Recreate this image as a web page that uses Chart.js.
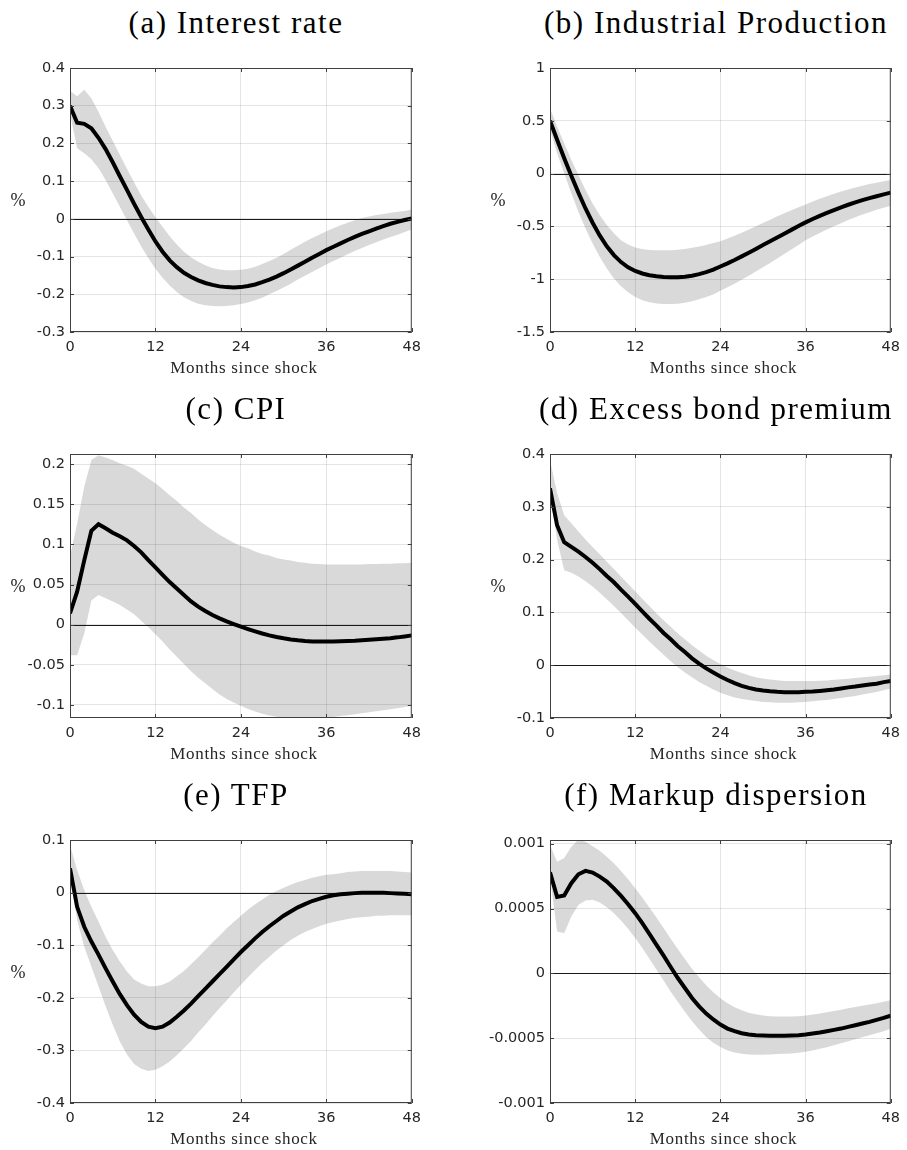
<!DOCTYPE html>
<html lang="en">
<head>
<meta charset="UTF-8">
<title>Impulse responses</title>
<script src="https://cdn.jsdelivr.net/npm/chart.js"></script>
<style>
    body { margin: 0; background: #fff; }
    #page { position: relative; width: 907px; height: 1150px; overflow: hidden; }
    #page canvas { position: absolute; }
    .ttl, .xl, .yl { position: absolute; font-family: "Liberation Serif", "DejaVu Serif", serif; color: #000; white-space: nowrap; }
    .ttl { font-size: 31px; line-height: 31px; letter-spacing: 1.5px; transform: translateX(-50%); }
    .xl { font-size: 17px; line-height: 17px; letter-spacing: 0.7px; color: #262626; transform: translateX(-50%); }
    .yl { font-size: 18px; line-height: 18px; color: #262626; transform: translate(-50%, -50%); }
</style>
</head>
<body>
<div id="page"></div>

<script>
    // months since shock
    const months = [0,1,2,3,4,5,6,7,8,9,10,11,12,13,14,15,16,17,18,19,20,21,22,23,24,
                    25,26,27,28,29,30,31,32,33,34,35,36,37,38,39,40,41,42,43,44,45,46,47,48];
    const xTicks = [0, 12, 24, 36, 48];

    // (a) Interest rate
    const aMid = [0.300,0.255,0.252,0.240,0.215,0.185,0.150,0.113,0.077,0.040,
                  0.005,-0.028,-0.060,-0.087,-0.110,-0.128,-0.143,-0.154,-0.163,-0.170,
                  -0.175,-0.179,-0.181,-0.182,-0.181,-0.178,-0.174,-0.168,-0.161,-0.153,
                  -0.144,-0.134,-0.124,-0.114,-0.103,-0.093,-0.083,-0.074,-0.065,-0.056,
                  -0.048,-0.040,-0.033,-0.026,-0.019,-0.013,-0.008,-0.003,0.001];
    const aHi  = [0.340,0.325,0.342,0.320,0.284,0.244,0.207,0.170,0.133,0.097,
                  0.062,0.032,0.004,-0.021,-0.046,-0.068,-0.087,-0.102,-0.114,-0.123,
                  -0.130,-0.134,-0.136,-0.136,-0.135,-0.132,-0.127,-0.120,-0.112,-0.103,
                  -0.093,-0.082,-0.071,-0.061,-0.051,-0.042,-0.033,-0.025,-0.017,-0.010,
                  -0.004,0.002,0.006,0.010,0.013,0.016,0.019,0.021,0.025];
    const aLo  = [0.280,0.187,0.174,0.158,0.135,0.103,0.068,0.032,-0.004,-0.039,
                  -0.073,-0.104,-0.132,-0.156,-0.177,-0.194,-0.208,-0.218,-0.225,-0.229,
                  -0.231,-0.232,-0.231,-0.229,-0.226,-0.222,-0.216,-0.209,-0.200,-0.191,
                  -0.182,-0.172,-0.161,-0.151,-0.141,-0.131,-0.121,-0.112,-0.103,-0.094,
                  -0.085,-0.077,-0.069,-0.062,-0.055,-0.048,-0.042,-0.035,-0.028];
    const aTicks = [-0.3,-0.2,-0.1,0,0.1,0.2,0.3,0.4];

    // (b) Industrial Production
    const bMid = [0.500,0.320,0.146,-0.020,-0.180,-0.330,-0.465,-0.585,-0.688,-0.772,
                  -0.838,-0.888,-0.922,-0.946,-0.962,-0.972,-0.979,-0.982,-0.982,-0.977,
                  -0.967,-0.952,-0.933,-0.910,-0.880,-0.850,-0.818,-0.784,-0.749,-0.713,
                  -0.677,-0.641,-0.605,-0.569,-0.533,-0.497,-0.462,-0.430,-0.400,-0.372,
                  -0.345,-0.319,-0.295,-0.272,-0.251,-0.232,-0.214,-0.197,-0.180];
    const bHi  = [0.620,0.446,0.288,0.130,-0.013,-0.155,-0.282,-0.392,-0.487,-0.566,
                  -0.630,-0.671,-0.699,-0.715,-0.724,-0.727,-0.727,-0.725,-0.721,-0.714,
                  -0.703,-0.690,-0.675,-0.658,-0.640,-0.615,-0.588,-0.559,-0.529,-0.498,
                  -0.467,-0.436,-0.405,-0.376,-0.347,-0.319,-0.292,-0.264,-0.238,-0.214,
                  -0.191,-0.169,-0.150,-0.131,-0.114,-0.099,-0.086,-0.073,-0.060];
    const bLo  = [0.415,0.193,0.003,-0.187,-0.361,-0.519,-0.661,-0.788,-0.899,-0.994,
                  -1.066,-1.123,-1.168,-1.199,-1.218,-1.231,-1.235,-1.236,-1.232,-1.222,
                  -1.208,-1.190,-1.168,-1.144,-1.110,-1.077,-1.042,-1.005,-0.967,-0.928,
                  -0.887,-0.846,-0.805,-0.762,-0.719,-0.675,-0.632,-0.596,-0.562,-0.530,
                  -0.499,-0.469,-0.440,-0.413,-0.388,-0.365,-0.342,-0.324,-0.305];
    const bTicks = [-1.5,-1,-0.5,0,0.5,1];

    // (c) CPI
    const cMid = [0.014,0.041,0.080,0.117,0.125,0.120,0.1145,0.110,0.105,0.098,
                  0.090,0.0805,0.0714,0.062,0.053,0.045,0.037,0.029,0.0224,0.017,
                  0.012,0.0078,0.004,0.0007,-0.0025,-0.0055,-0.0083,-0.011,-0.0133,-0.0153,
                  -0.017,-0.0184,-0.0195,-0.0203,-0.0208,-0.021,-0.021,-0.021,-0.0207,-0.0203,
                  -0.020,-0.0195,-0.0189,-0.0183,-0.0176,-0.0168,-0.0158,-0.0146,-0.0133];
    const cHi  = [0.085,0.126,0.172,0.205,0.211,0.208,0.205,0.201,0.198,0.194,
                  0.188,0.182,0.176,0.169,0.161,0.154,0.146,0.139,0.131,0.124,
                  0.118,0.112,0.107,0.102,0.098,0.095,0.091,0.088,0.086,0.083,
                  0.081,0.080,0.078,0.077,0.076,0.0755,0.075,0.075,0.075,0.075,
                  0.075,0.075,0.0755,0.0755,0.076,0.076,0.0765,0.0765,0.077];
    const cLo  = [-0.038,-0.038,-0.011,0.030,0.037,0.033,0.029,0.0245,0.019,0.013,
                  0.005,-0.0033,-0.012,-0.021,-0.031,-0.040,-0.049,-0.058,-0.066,-0.073,
                  -0.080,-0.087,-0.0925,-0.097,-0.101,-0.105,-0.108,-0.111,-0.113,-0.1145,
                  -0.116,-0.117,-0.117,-0.117,-0.117,-0.117,-0.116,-0.115,-0.1137,-0.1127,
                  -0.1116,-0.1103,-0.109,-0.1078,-0.1066,-0.1053,-0.104,-0.1025,-0.101];
    const cTicks = [-0.1,-0.05,0,0.05,0.1,0.15,0.2];

    // (d) Excess bond premium
    const dMid = [0.335,0.265,0.233,0.224,0.215,0.205,0.194,0.182,0.169,0.157,
                  0.143,0.130,0.116,0.102,0.088,0.075,0.061,0.049,0.036,0.025,
                  0.013,0.003,-0.006,-0.014,-0.0215,-0.028,-0.034,-0.039,-0.043,-0.046,
                  -0.048,-0.0495,-0.0505,-0.051,-0.051,-0.051,-0.0505,-0.050,-0.0487,-0.0474,
                  -0.046,-0.044,-0.042,-0.0405,-0.0386,-0.0367,-0.035,-0.032,-0.030];
    const dHi  = [0.389,0.326,0.284,0.269,0.253,0.238,0.224,0.210,0.196,0.182,
                  0.168,0.154,0.140,0.126,0.112,0.098,0.085,0.073,0.060,0.049,
                  0.038,0.028,0.018,0.010,0.0025,-0.0044,-0.010,-0.015,-0.019,-0.023,
                  -0.025,-0.027,-0.0285,-0.030,-0.030,-0.030,-0.030,-0.030,-0.0294,-0.0288,
                  -0.0275,-0.0268,-0.0256,-0.0243,-0.023,-0.0218,-0.0205,-0.0192,-0.0177];
    const dLo  = [0.326,0.237,0.180,0.175,0.168,0.159,0.149,0.137,0.125,0.112,
                  0.099,0.085,0.071,0.058,0.045,0.032,0.020,0.0076,-0.0038,-0.014,
                  -0.023,-0.032,-0.039,-0.046,-0.052,-0.057,-0.061,-0.064,-0.066,-0.068,
                  -0.0695,-0.070,-0.071,-0.071,-0.071,-0.070,-0.0695,-0.0683,-0.067,-0.0657,
                  -0.0638,-0.0619,-0.060,-0.0582,-0.0556,-0.0531,-0.0506,-0.0474,-0.044];
    const dTicks = [-0.1,0,0.1,0.2,0.3,0.4];

    // (e) TFP
    const eMid = [0.046,-0.027,-0.065,-0.093,-0.118,-0.144,-0.169,-0.193,-0.214,-0.232,
                  -0.246,-0.255,-0.258,-0.255,-0.247,-0.236,-0.224,-0.211,-0.197,-0.183,
                  -0.169,-0.155,-0.141,-0.127,-0.113,-0.100,-0.087,-0.075,-0.064,-0.054,
                  -0.044,-0.036,-0.028,-0.022,-0.016,-0.012,-0.008,-0.005,-0.003,-0.002,
                  -0.001,-0.0005,-0.0003,-0.0003,-0.0005,-0.001,-0.0015,-0.002,-0.003];
    const eHi  = [0.090,0.043,0.005,-0.027,-0.055,-0.084,-0.109,-0.131,-0.150,-0.165,
                  -0.173,-0.178,-0.178,-0.175,-0.169,-0.159,-0.149,-0.136,-0.123,-0.109,
                  -0.095,-0.082,-0.068,-0.056,-0.044,-0.032,-0.022,-0.013,-0.004,0.003,
                  0.009,0.015,0.020,0.024,0.028,0.031,0.034,0.035,0.037,0.039,
                  0.040,0.041,0.041,0.041,0.041,0.041,0.040,0.039,0.038];
    const eLo  = [0.034,-0.052,-0.103,-0.141,-0.178,-0.216,-0.251,-0.283,-0.308,-0.326,
                  -0.335,-0.339,-0.337,-0.330,-0.321,-0.309,-0.296,-0.282,-0.266,-0.251,
                  -0.235,-0.220,-0.205,-0.190,-0.175,-0.161,-0.147,-0.134,-0.122,-0.110,
                  -0.100,-0.090,-0.082,-0.075,-0.069,-0.064,-0.059,-0.056,-0.053,-0.050,
                  -0.048,-0.047,-0.046,-0.044,-0.044,-0.043,-0.043,-0.043,-0.043];
    const eTicks = [-0.4,-0.3,-0.2,-0.1,0,0.1];

    // (f) Markup dispersion
    const fMid = [0.00078,0.00059,0.0006,0.000695,0.000764,0.00079,0.000777,0.000746,0.000708,0.000656,
                  0.000597,0.000533,0.000464,0.000387,0.000305,0.00022,0.000136,0.000049,-0.000036,-0.000113,
                  -0.00019,-0.000254,-0.00031,-0.000356,-0.000395,-0.000426,-0.000446,-0.000462,-0.000472,-0.000477,
                  -0.00048,-0.000482,-0.000482,-0.000482,-0.00048,-0.000477,-0.000472,-0.000464,-0.000456,-0.000446,
                  -0.000436,-0.000426,-0.000413,-0.0004,-0.000387,-0.000374,-0.000359,-0.000344,-0.000326];
    const fHi  = [0.00099,0.00086,0.00089,0.000977,0.00103,0.001015,0.00098,0.000946,0.0009,0.00085,
                  0.00079,0.000726,0.000656,0.000585,0.000508,0.00043,0.000349,0.000267,0.000187,0.00011,
                  0.000036,-0.000031,-0.000092,-0.000146,-0.000192,-0.000231,-0.000262,-0.000285,-0.000303,-0.000315,
                  -0.000326,-0.00033,-0.000333,-0.000333,-0.000333,-0.00033,-0.000326,-0.000318,-0.00031,-0.0003,
                  -0.00029,-0.00028,-0.00027,-0.00026,-0.00025,-0.00024,-0.00023,-0.00022,-0.000208];
    const fLo  = [0.000746,0.000323,0.00031,0.000438,0.000528,0.000562,0.000567,0.000546,0.00051,0.000464,
                  0.000408,0.000344,0.000272,0.000195,0.000113,0.000028,-0.000056,-0.000141,-0.00022,-0.000297,
                  -0.000369,-0.000433,-0.00049,-0.000536,-0.000569,-0.000595,-0.00061,-0.00062,-0.000626,-0.000628,
                  -0.000628,-0.000626,-0.000623,-0.00062,-0.000618,-0.000613,-0.000605,-0.000595,-0.000582,-0.00057,
                  -0.000554,-0.000539,-0.000523,-0.000508,-0.000492,-0.000477,-0.000462,-0.000446,-0.000428];
    const fTicks = [-0.001,-0.0005,0,0.0005,0.001];

    const panels = [
        { title: '(a) Interest rate',         mid: aMid, hi: aHi, lo: aLo, ticks: aTicks, min: -0.3,   max: 0.4,      pct: true },
        { title: '(b) Industrial Production', mid: bMid, hi: bHi, lo: bLo, ticks: bTicks, min: -1.5,   max: 1,        pct: true },
        { title: '(c) CPI',                   mid: cMid, hi: cHi, lo: cLo, ticks: cTicks, min: -0.1162, max: 0.2125,  pct: true },
        { title: '(d) Excess bond premium',   mid: dMid, hi: dHi, lo: dLo, ticks: dTicks, min: -0.1,   max: 0.4,      pct: true },
        { title: '(e) TFP',                   mid: eMid, hi: eHi, lo: eLo, ticks: eTicks, min: -0.4,   max: 0.1,      pct: true },
        { title: '(f) Markup dispersion',     mid: fMid, hi: fHi, lo: fLo, ticks: fTicks, min: -0.001, max: 0.0010285, pct: false }
    ];

    // layout (page pixels)
    const colL = [70, 550], colR = [418, 897];
    const rowT = [68, 454, 840], rowB = [332, 718, 1103];
    const titleX = [236, 716], pctX = [18, 498];
    const padL = 65, padT = 14, padR = 10, padB = 30;

    Chart.defaults.font.family = '"DejaVu Sans", "Liberation Sans", sans-serif';
    Chart.defaults.font.size = 14.5;
    Chart.defaults.color = '#262626';

    // zero line, box and inward tick marks like MATLAB
    const axesPlugin = {
        id: 'axesBox',
        beforeDatasetDraw(chart, args) {
            if (args.index !== 0) return;
            const { ctx, chartArea: a, scales: { y } } = chart;
            const y0 = Math.round(y.getPixelForValue(0)) + 0.5;
            ctx.save();
            ctx.strokeStyle = '#1a1a1a';
            ctx.lineWidth = 1;
            ctx.beginPath();
            ctx.moveTo(a.left, y0);
            ctx.lineTo(a.right, y0);
            ctx.stroke();
            ctx.restore();
        },
        afterDraw(chart) {
            const { ctx, chartArea: a, scales: { x, y } } = chart;
            ctx.save();
            ctx.strokeStyle = '#404040';
            ctx.lineWidth = 1;
            ctx.beginPath();
            x.ticks.forEach(t => {
                const px = Math.round(x.getPixelForValue(t.value)) + 0.5;
                ctx.moveTo(px, a.bottom); ctx.lineTo(px, a.bottom - 4);
                ctx.moveTo(px, a.top); ctx.lineTo(px, a.top + 4);
            });
            y.ticks.forEach(t => {
                const py = Math.round(y.getPixelForValue(t.value)) + 0.5;
                ctx.moveTo(a.left, py); ctx.lineTo(a.left + 4, py);
                ctx.moveTo(a.right, py); ctx.lineTo(a.right - 4, py);
            });
            ctx.stroke();
            ctx.strokeRect(a.left + 0.5, a.top + 0.5, a.right - a.left - 1, a.bottom - a.top - 1);
            ctx.restore();
        }
    };

    const page = document.getElementById('page');

    function addText(cls, text, left, top) {
        const d = document.createElement('div');
        d.className = cls;
        d.textContent = text;
        d.style.left = left + 'px';
        d.style.top = top + 'px';
        page.appendChild(d);
    }

    panels.forEach((p, i) => {
        const col = i % 2, row = Math.floor(i / 2);
        const L = colL[col], R = colR[col], T = rowT[row], B = rowB[row];

        const cv = document.createElement('canvas');
        cv.width = (R - L) + padL + padR;
        cv.height = (B - T) + padT + padB;
        cv.style.left = (L - padL) + 'px';
        cv.style.top = (T - padT) + 'px';
        page.appendChild(cv);

        const pts = arr => months.map((m, k) => ({ x: m, y: arr[k] }));

        new Chart(cv, {
            type: 'line',
            data: {
                datasets: [
                    { data: pts(p.mid), borderColor: '#000', borderWidth: 4, pointRadius: 0, fill: false },
                    { data: pts(p.hi), borderWidth: 0, borderColor: 'transparent', pointRadius: 0,
                      fill: '+1', backgroundColor: 'rgba(0,0,0,0.15)' },
                    { data: pts(p.lo), borderWidth: 0, borderColor: 'transparent', pointRadius: 0, fill: false }
                ]
            },
            options: {
                responsive: false,
                animation: false,
                events: [],
                layout: { padding: { left: 0, top: padT, right: padR, bottom: 0 } },
                plugins: { legend: { display: false }, tooltip: { enabled: false } },
                scales: {
                    x: {
                        type: 'linear', min: 0, max: 48, bounds: 'data',
                        afterBuildTicks: s => { s.ticks = xTicks.map(v => ({ value: v })); },
                        afterFit: s => { s.height = padB; },
                        grid: { color: 'rgba(0,0,0,0.1)', drawTicks: false },
                        border: { display: false },
                        ticks: { padding: 7, maxRotation: 0 }
                    },
                    y: {
                        type: 'linear', min: p.min, max: p.max, bounds: 'data',
                        afterBuildTicks: s => { s.ticks = p.ticks.map(v => ({ value: v })); },
                        afterFit: s => { s.width = padL; },
                        grid: { color: 'rgba(0,0,0,0.1)', drawTicks: false },
                        border: { display: false },
                        ticks: { padding: 5, callback: v => String(+v.toFixed(6)) }
                    }
                }
            },
            plugins: [axesPlugin]
        });

        addText('ttl', p.title, titleX[col], T - 61);
        addText('xl', 'Months since shock', (L + R) / 2, B + 27);
        if (p.pct) addText('yl', '%', pctX[col], (T + B) / 2);
    });
</script>
</body>
</html>
